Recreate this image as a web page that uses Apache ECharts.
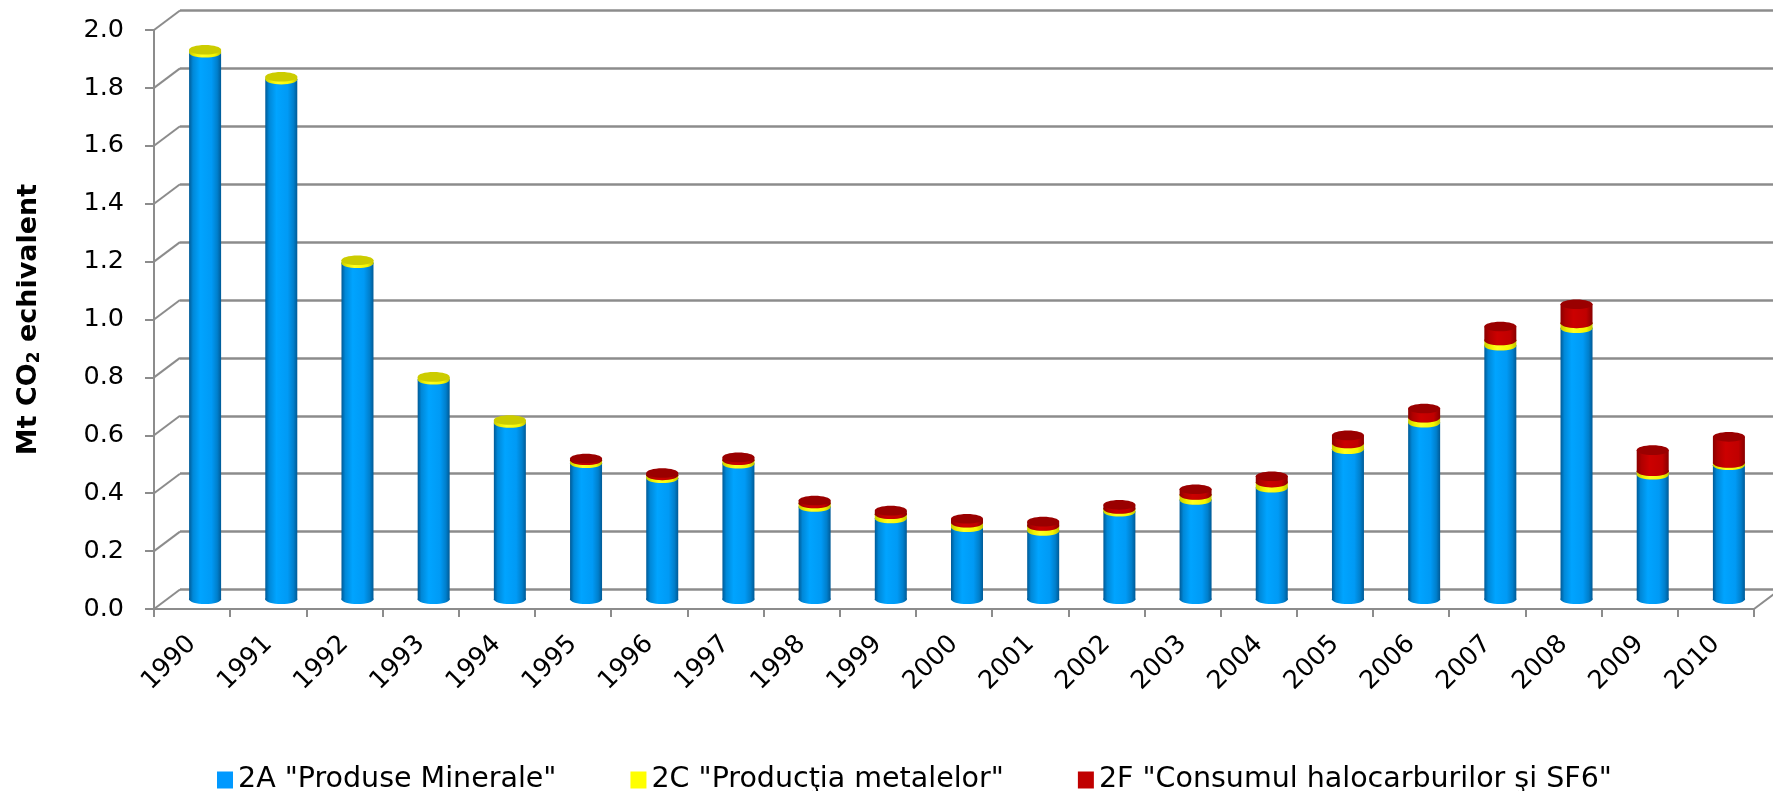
<!DOCTYPE html>
<html>
<head>
<meta charset="utf-8">
<script src="https://cdn.jsdelivr.net/npm/echarts@6/dist/echarts.min.js"></script>
<style>html,body{margin:0;padding:0;background:#fff}#c{width:1773px;height:791px}</style>
</head>
<body>
<div id="c"></div>
<script>
var years = ['1990','1991','1992','1993','1994','1995','1996','1997','1998','1999','2000','2001','2002','2003','2004','2005','2006','2007','2008','2009','2010'];
var mineral2A = [1.888,1.795,1.161,0.758,0.609,0.470,0.418,0.468,0.319,0.279,0.249,0.236,0.302,0.343,0.385,0.518,0.610,0.876,0.936,0.430,0.463];
var metal2C  = [0.010,0.010,0.010,0.010,0.010,0.010,0.010,0.012,0.012,0.015,0.015,0.017,0.010,0.017,0.018,0.020,0.017,0.018,0.017,0.012,0.008];
var halo2F   = [0,0,0,0,0,0.006,0.008,0.010,0.010,0.012,0.014,0.015,0.014,0.020,0.022,0.028,0.032,0.048,0.066,0.073,0.090];
var yTickValues = [0,0.2,0.4,0.6,0.8,1.0,1.2,1.4,1.6,1.8,2.0];
var seriesNames = ['2A "Produse Minerale"','2C "Producţia metalelor"','2F "Consumul halocarburilor şi SF6"'];

var FONT = 'DejaVu Sans';
var DEPTH_X = 26, DEPTH_Y = -19.5;
var GRID_W = 1600, GRID_H = 579;

function stackData(lists, k) {
  var out = [];
  for (var i = 0; i < years.length; i++) {
    var base = 0;
    for (var j = 0; j < k; j++) base += lists[j][i];
    out.push([i, base, base + lists[k][i]]);
  }
  return out;
}
var lists = [mineral2A, metal2C, halo2F];

function makeRender(stops, faceColor) {
  return function (params, api) {
    var idx = api.value(0), b = api.value(1), t = api.value(2);
    if (!(t - b > 0)) return;
    var pb = api.coord([idx, b]), pt = api.coord([idx, t]);
    var w = api.size([1, 0])[0] * 0.42;
    var ry = w * 0.15;
    var grad = new echarts.graphic.LinearGradient(0, 0, 1, 0, stops);
    return {
      type: 'group',
      children: [
        {type: 'rect', shape: {x: pb[0] - w / 2, y: pt[1], width: w, height: pb[1] - pt[1]}, style: {fill: grad}},
        {type: 'ellipse', shape: {cx: pb[0], cy: pb[1], rx: w / 2, ry: ry}, style: {fill: grad}},
        {type: 'ellipse', shape: {cx: pt[0], cy: pt[1], rx: w / 2, ry: ry}, style: {fill: faceColor}}
      ]
    };
  };
}

var blueStops = [
  {offset: 0, color: '#005a96'}, {offset: 0.12, color: '#0088d8'}, {offset: 0.35, color: '#00a4ff'},
  {offset: 0.7, color: '#009af5'}, {offset: 0.88, color: '#007fcc'}, {offset: 1, color: '#005a96'}];
var yellowStops = [
  {offset: 0, color: '#c8c800'}, {offset: 0.2, color: '#f0f000'}, {offset: 0.4, color: '#ffff20'},
  {offset: 0.8, color: '#f5f500'}, {offset: 1, color: '#c0c000'}];
var redStops = [
  {offset: 0, color: '#8a0000'}, {offset: 0.15, color: '#b00000'}, {offset: 0.4, color: '#cc0000'},
  {offset: 0.8, color: '#c00000'}, {offset: 1, color: '#880000'}];

var diagData = yTickValues.map(function (v) { return [0, v]; });
diagData.push([years.length, 0]);

var chart = echarts.init(document.getElementById('c'), null, {renderer: 'canvas'});
var option = {
  backgroundColor: '#ffffff',
  animation: false,
  grid: [
    {left: 154, top: 30, width: GRID_W, height: GRID_H, outerBoundsMode: 'none'},
    {left: 154 + DEPTH_X / 2, top: 30 + DEPTH_Y / 2, width: GRID_W, height: GRID_H, outerBoundsMode: 'none'},
    {left: 154 + DEPTH_X, top: 30 + DEPTH_Y, width: GRID_W, height: GRID_H, outerBoundsMode: 'none'}
  ],
  xAxis: [
    {gridIndex: 0, type: 'category', data: years, boundaryGap: true,
     axisLine: {show: true, lineStyle: {color: '#8c8c8c', width: 2}},
     axisTick: {show: true, length: 8, lineStyle: {color: '#8c8c8c', width: 2}},
     axisLabel: {rotate: 45, margin: 31, color: '#000', fontSize: 25.5, fontFamily: FONT, interval: 0},
     splitLine: {show: false}},
    {gridIndex: 0, type: 'value', min: 0, max: years.length, show: false},
    {gridIndex: 1, type: 'category', data: years, boundaryGap: true, show: false},
    {gridIndex: 2, type: 'category', data: years, boundaryGap: true, show: false}
  ],
  yAxis: [
    {gridIndex: 0, type: 'value', min: 0, max: 2, interval: 0.2,
     name: 'Mt CO{sub|2} echivalent', nameLocation: 'middle', nameGap: 111,
     nameTextStyle: {fontSize: 27, fontWeight: 'bold', fontFamily: FONT, color: '#000',
       rich: {sub: {fontSize: 17, fontWeight: 'bold', fontFamily: FONT, color: '#000', padding: [12, 0, 0, 0]}}},
     axisLine: {show: true, lineStyle: {color: '#8c8c8c', width: 2}},
     axisTick: {show: true, length: 9, lineStyle: {color: '#8c8c8c', width: 2}},
     axisLabel: {margin: 30, color: '#000', fontSize: 25.5, fontFamily: FONT,
       formatter: function (v) { return v.toFixed(1); }},
     splitLine: {show: false}},
    {gridIndex: 1, type: 'value', min: 0, max: 2, interval: 0.2, show: false},
    {gridIndex: 2, type: 'value', min: 0, max: 2, interval: 0.2,
     axisLine: {show: false}, axisTick: {show: false}, axisLabel: {show: false},
     splitLine: {show: true, lineStyle: {color: '#8c8c8c', width: 2.5}}}
  ],
  legend: {
    data: seriesNames, left: 212, top: 759, itemWidth: 16, itemHeight: 17, itemGap: 74,
    icon: 'rect', textStyle: {fontSize: 28.5, fontFamily: FONT, color: '#000', lineHeight: 32}
  },
  series: [
    {type: 'custom', name: '_depth', xAxisIndex: 1, yAxisIndex: 0, silent: true, z: 1,
     data: diagData,
     renderItem: function (params, api) {
       var p = api.coord([api.value(0), api.value(1)]);
       return {type: 'line', shape: {x1: p[0], y1: p[1], x2: p[0] + DEPTH_X, y2: p[1] + DEPTH_Y},
               style: {stroke: '#8c8c8c', lineWidth: 2}};
     }},
    {type: 'custom', name: seriesNames[0], xAxisIndex: 2, yAxisIndex: 1, z: 3,
     itemStyle: {color: '#0099ff'}, data: stackData(lists, 0), renderItem: makeRender(blueStops, '#0090e8')},
    {type: 'custom', name: seriesNames[1], xAxisIndex: 2, yAxisIndex: 1, z: 3,
     itemStyle: {color: '#ffff00'}, data: stackData(lists, 1), renderItem: makeRender(yellowStops, '#cccc00')},
    {type: 'custom', name: seriesNames[2], xAxisIndex: 2, yAxisIndex: 1, z: 3,
     itemStyle: {color: '#c00000'}, data: stackData(lists, 2), renderItem: makeRender(redStops, '#9a0000')}
  ]
};
chart.setOption(option);
</script>
</body>
</html>
